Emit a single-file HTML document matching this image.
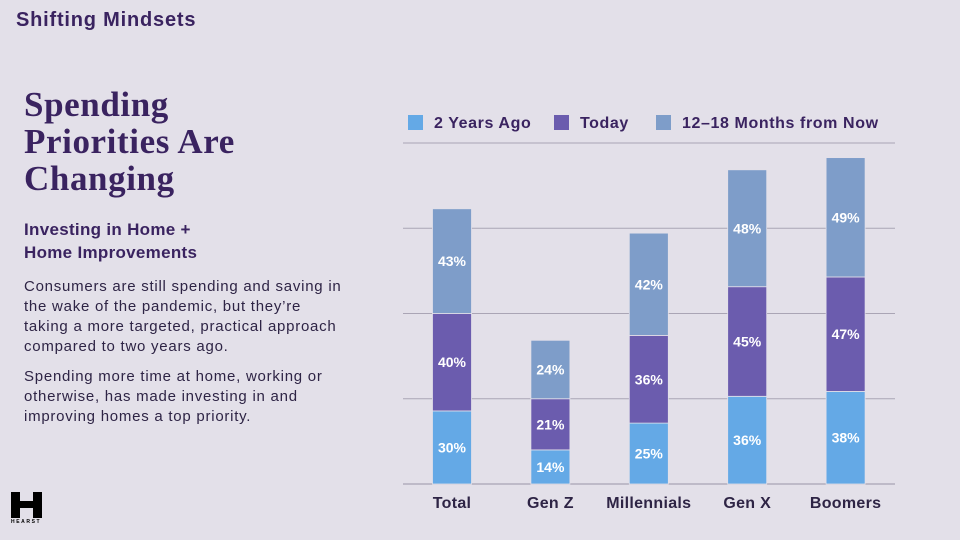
<!DOCTYPE html>
<html><head><meta charset="utf-8"><style>
body{margin:0;width:960px;height:540px;background:#e3e0e9;font-family:"Liberation Sans",sans-serif;overflow:hidden;position:relative;color:#3a2360}
.abs{position:absolute}
</style></head><body>
<div class="abs" style="left:16px;top:9px;font-size:20px;font-weight:bold;letter-spacing:0.8px;">Shifting Mindsets</div>
<div class="abs" style="left:24px;top:86px;font-family:'Liberation Serif',serif;font-size:35px;font-weight:bold;line-height:37px;letter-spacing:0.6px;">Spending<br>Priorities Are<br>Changing</div>
<div class="abs" style="left:24px;top:218px;font-size:17px;font-weight:bold;line-height:23px;letter-spacing:0.3px;">Investing in Home +<br>Home Improvements</div>
<div class="abs" style="left:24px;top:277px;width:360px;font-size:15px;line-height:20px;color:#2e2445;letter-spacing:0.75px;white-space:nowrap">Consumers are still spending and saving in<br>the wake of the pandemic, but they’re<br>taking a more targeted, practical approach<br>compared to two years ago.</div>
<div class="abs" style="left:24px;top:367px;width:360px;font-size:15px;line-height:20px;color:#2e2445;letter-spacing:0.75px;white-space:nowrap">Spending more time at home, working or<br>otherwise, has made investing in and<br>improving homes a top priority.</div>
<div class="abs" style="left:11px;top:492px;width:32px;height:34px;">
<div style="position:absolute;left:0;top:0;width:31px;height:26px;background:#000;"></div>
<div style="position:absolute;left:9px;top:0;width:13px;height:9px;background:#e3e0e9;"></div>
<div style="position:absolute;left:9px;top:16px;width:13px;height:10px;background:#e3e0e9;"></div>
<div style="position:absolute;left:0;top:27px;font-size:5px;letter-spacing:1.6px;font-weight:bold;color:#000;">HEARST</div></div>
<svg class="abs" style="left:0;top:0" width="960" height="540">
<g id="legend"></g><g id="grid"></g><g id="bars"></g><g id="xlabels"></g>
</svg>
<script>
const categories=["Total","Gen Z","Millennials","Gen X","Boomers"];
const twoYearsAgo=[30,14,25,36,38];
const today=[40,21,36,45,47];
const future=[43,24,42,48,49];
const seriesNames=["2 Years Ago","Today","12–18 Months from Now"];
const gridTicks=[0,35,70,105,140];
const colors=["#64a9e6","#6b5cae","#7e9dc9"];
const NS="http://www.w3.org/2000/svg";
const y0=484,yMax=143,vMax=140;
const y=v=>y0-(v/vMax)*(y0-yMax);
const xc=i=>452+i*98.4;
function mk(t,a,p){const e=document.createElementNS(NS,t);for(const k in a)e.setAttribute(k,a[k]);p.appendChild(e);return e;}
const G=document.getElementById('grid');
gridTicks.forEach(t=>{const l=mk('line',{x1:403,x2:895,y1:y(t),y2:y(t),stroke:t===0?'#9a95a6':'#aaa5b5','stroke-width':1},G);

});
const B=document.getElementById('bars');
const series=[twoYearsAgo,today,future];
categories.forEach((c,i)=>{let base=0;series.forEach((s,j)=>{const v=s[i];
const r=mk('rect',{x:xc(i)-19.5,width:39,y:y(base+v),height:y(base)-y(base+v),fill:colors[j],stroke:'#e3e0e9','stroke-width':0.8},B);


const tx=mk('text',{x:xc(i),y:y(base+v/2)+5,'text-anchor':'middle',fill:'#fff','font-size':14,'font-weight':'bold'},B);
tx.textContent=v+'%';


base+=v;});
const xl=mk('text',{x:xc(i),y:508,'text-anchor':'middle',fill:'#2e2445','font-size':16,'font-weight':'bold','letter-spacing':0.3},document.getElementById('xlabels'));
xl.textContent=c;

});
const L=document.getElementById('legend');
const lx=[408,554,656];
seriesNames.forEach((n,j)=>{const g=mk('g',{},L);


mk('rect',{x:lx[j],y:115,width:15,height:15,fill:colors[j]},g);
const t=mk('text',{x:lx[j]+26,y:128,fill:'#3a2360','font-size':16,'font-weight':'bold','letter-spacing':0.6},g);t.textContent=n;});
</script>
</body></html>
